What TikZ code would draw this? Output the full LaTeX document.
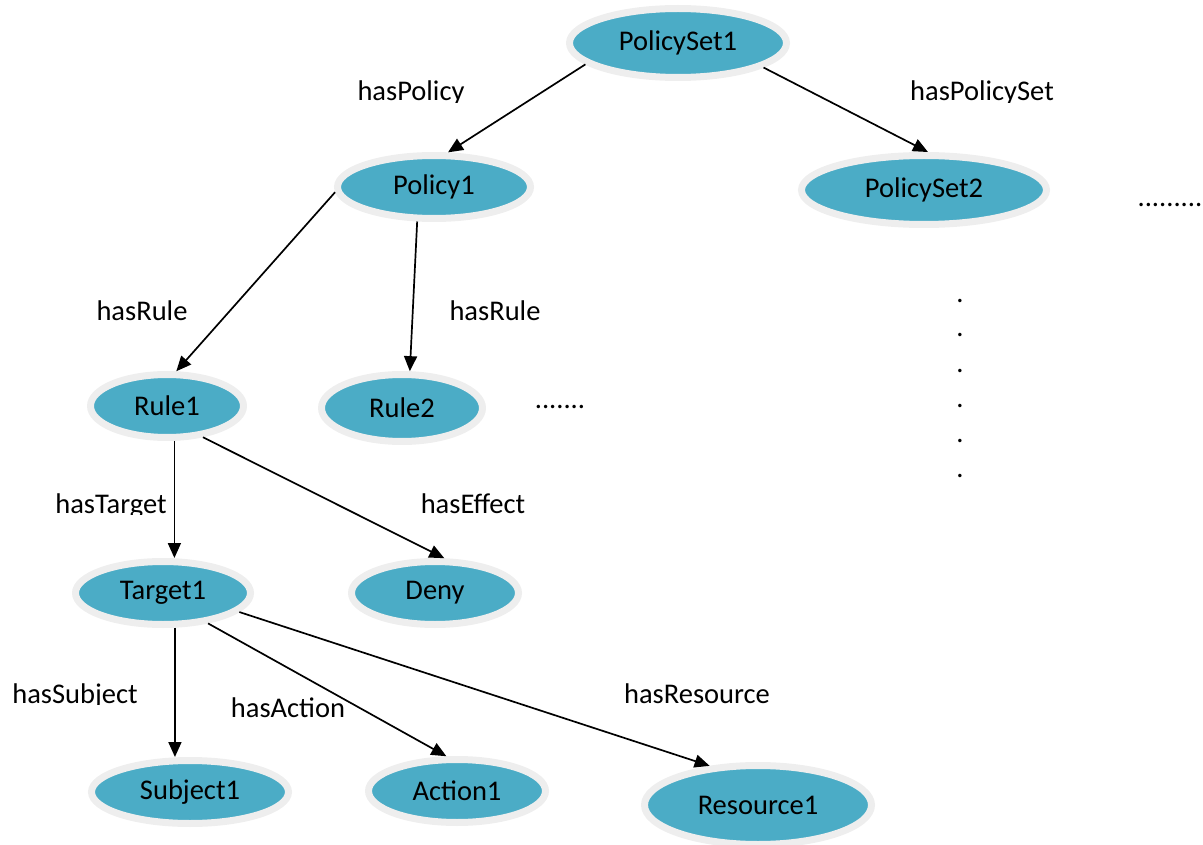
\documentclass[tikz,border=0pt]{standalone}
\usepackage{fontspec}
\setmainfont{Carlito}
\usetikzlibrary{shapes.geometric,arrows.meta,calc}

\definecolor{nodeteal}{HTML}{4BACC6}
\definecolor{nodehalo}{HTML}{EEEEEE}

\tikzset{
  concept/.style={ellipse, fill=nodeteal, draw=nodehalo, line width=7pt,
    inner sep=0pt, text=black, font=\fontsize{28.5}{34}\selectfont},
  rel/.style={line width=1.7pt, -{Triangle[length=15pt,width=13pt]}},
  elabel/.style={inner sep=0pt, anchor=base, font=\fontsize{28.5}{34}\selectfont},
  dotmark/.style={inner sep=0pt, anchor=base, font=\fontsize{28.5}{34}\selectfont},
}

% edge label whose descenders are trimmed just below the baseline
\newcommand\relabel[3]{%
  \begin{scope}
    \clip ($(#2)+(-130,-40)$) rectangle ($(#2)+(130,1.5)$);
    \node[elabel] (#1) at (#2) {#3};
  \end{scope}}

\begin{document}
\begin{tikzpicture}[x=1pt,y=-1pt]
\useasboundingbox (0,0) rectangle (1203,845);

% concepts
\node[concept, minimum width=217pt, minimum height=69pt] (ps1)  at (678,43)  {PolicySet1};
\node[concept, minimum width=193pt, minimum height=63pt] (p1)   at (434,187) {Policy1};
\node[concept, minimum width=245pt, minimum height=69pt] (ps2)  at (924,190) {PolicySet2};
\node[concept, minimum width=153pt, minimum height=63pt] (r1)   at (167,406) {Rule1};
\node[concept, minimum width=161pt, minimum height=67pt] (r2)   at (402,408) {Rule2};
\node[concept, minimum width=175pt, minimum height=63pt] (t1)   at (163,593) {Target1};
\node[concept, minimum width=167pt, minimum height=63pt] (deny) at (435,593) {Deny};
\node[concept, minimum width=197pt, minimum height=63pt] (s1)   at (190,792) {Subject1};
\node[concept, minimum width=177pt, minimum height=63pt] (a1)   at (457,791) {Action1};
\node[concept, minimum width=227pt, minimum height=79pt] (res1) at (758,805) {Resource1};

% relations
\draw[rel] (ps1.193) -- (p1.68);
\draw[rel] (ps1.344) -- (ps2.84);
\draw[rel] (p1.183) -- (r1.75);
\draw[rel] (p1.244) -- (r2.78);
\draw[rel] (r1.282) -- (r1.282 |- t1.north);
\draw[rel] (r1.319) -- (deny.75);
\draw[rel] (t1.289) -- (t1.289 |- s1.north);
\draw[rel] (t1.326) -- (a1.107);
\draw[rel] (t1.346) -- (res1.141);

% relation labels
\relabel{lpol}{411,101}{hasPolicy}
\relabel{lpset}{982,101}{hasPolicySet}
\relabel{lrule1}{142,320}{hasRule}
\relabel{lrule2}{495,320}{hasRule}
\relabel{ltarget}{111,513}{hasTarget}
\relabel{leffect}{473,513}{hasEffect}
\relabel{lsubject}{75,703}{hasSubject}
\relabel{laction}{288,717}{hasAction}
\relabel{lresource}{697,703}{hasResource}

% continuation marks
\node[dotmark] (more1) at (560,408) {.......};
\node[dotmark] (more2) at (1170,207) {.........};
\foreach \yy [count=\i] in {300,335,370,405,440,475}
  \node[dotmark] (vdot\i) at (960,\yy+2) {.};

\end{tikzpicture}
\end{document}
